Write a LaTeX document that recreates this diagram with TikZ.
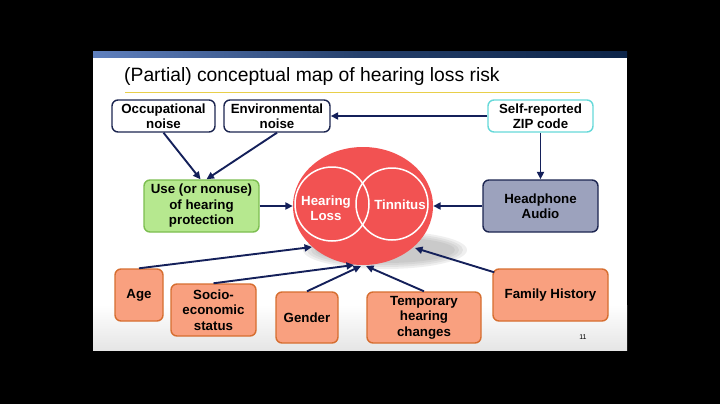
\documentclass[tikz,border=0pt]{standalone}
\usepackage{fontspec}
\setmainfont{Liberation Sans}
\usetikzlibrary{arrows.meta,shapes.geometric,calc}
\definecolor{navy}{RGB}{20,32,90}
\definecolor{orfill}{RGB}{249,160,127}
\definecolor{ordraw}{RGB}{214,110,48}
\definecolor{grfill}{RGB}{182,232,143}
\definecolor{grdraw}{RGB}{124,190,80}
\definecolor{hpfill}{RGB}{156,162,189}
\definecolor{hpdraw}{RGB}{28,37,80}
\definecolor{zipdraw}{RGB}{102,217,217}
\definecolor{bigred}{RGB}{242,82,82}
\definecolor{titleline}{RGB}{232,207,74}
\definecolor{barlight}{RGB}{95,128,190}
\definecolor{bardark}{RGB}{12,36,72}
\begin{document}
\begin{tikzpicture}[x=1pt,y=-1pt,
  box/.style={draw, rounded corners=6pt, line width=1.4pt, align=center,
    font=\bfseries\fontsize{13.3}{15.5}\selectfont, inner sep=0pt},
  whitebox/.style={box, fill=white, draw=hpdraw},
  orbox/.style={box, fill=orfill, draw=ordraw},
  shadowpart/.style={fill=gray, opacity=0.12},
  arr/.style={-{Triangle[length=7.5pt,width=7pt]}, line width=1.9pt, draw=navy}]
\fill[black] (0,0) rectangle (720,404);
\useasboundingbox (0,0) rectangle (720,404);
\fill[white] (93,52) rectangle (627,350);
\shade[top color=white, bottom color=gray!20] (93,305) rectangle (627,350);
\shade[left color=barlight, right color=bardark, middle color=bardark!70!barlight] (93,52) rectangle (627,58);
\node[anchor=west, font=\fontsize{19.3}{23}\selectfont, inner sep=0pt] (title) at (124,77) {(Partial) conceptual map of hearing loss risk};
\draw[titleline, line width=0.8pt] (125,92) -- (580,92);

% top row
\node[whitebox, minimum width=103pt, minimum height=32pt] (occ) at (163.5,116) {Occupational\\noise};
\node[whitebox, minimum width=106pt, minimum height=32pt] (env) at (277,116) {Environmental\\noise};
\node[box, fill=white, draw=zipdraw, minimum width=105pt, minimum height=32pt] (zip) at (540.5,116) {Self-reported\\ZIP code};
% middle row
\node[box, fill=grfill, draw=grdraw, minimum width=115pt, minimum height=52pt] (use) at (201.5,206) {Use (or nonuse)\\of hearing\\protection};
\node[box, fill=hpfill, draw=hpdraw, minimum width=115pt, minimum height=52pt] (head) at (540.5,206) {Headphone\\Audio};

% central circle with soft shadow
\fill[shadowpart] (385,250) ellipse [x radius=82pt, y radius=19pt];
\fill[shadowpart] (385,250) ellipse [x radius=78pt, y radius=17pt];
\fill[shadowpart] (385,250) ellipse [x radius=74pt, y radius=15pt];
\fill[shadowpart] (385,250) ellipse [x radius=70pt, y radius=13pt];
\node[ellipse, fill=bigred, minimum width=140pt, minimum height=118pt, inner sep=0pt] (big) at (363,206) {};
\node[circle, draw=white, line width=1.5pt, minimum size=74pt, inner sep=0pt] (hl) at (332,204) {};
\node[circle, draw=white, line width=1.5pt, minimum size=72pt, inner sep=0pt] (tn) at (392,204) {};
\node[text=white, align=center, font=\bfseries\fontsize{13.3}{15.5}\selectfont] (hltext) at (326,208) {Hearing\\Loss};
\node[text=white, font=\bfseries\fontsize{13.3}{15.5}\selectfont] (tntext) at (400,205) {Tinnitus};

% bottom row
\node[orbox, minimum width=48pt, minimum height=52pt] (age) at (139,295) {Age};
\node[orbox, minimum width=85pt, minimum height=52pt] (socio) at (213.5,310) {Socio-\\economic\\status};
\node[orbox, minimum width=62pt, minimum height=51pt] (gender) at (307,317.5) {Gender};
\node[orbox, minimum width=114pt, minimum height=51pt] (temp) at (424,317.5) {Temporary\\hearing\\changes};
\node[orbox, minimum width=115pt, minimum height=52pt] (family) at (550.5,295) {Family History};

\node[font=\fontsize{7}{8}\selectfont] (pg) at (583,337) {11};

% arrow end points on the circle
\coordinate (tAge) at (312,247);
\coordinate (tSocio) at (354,265);
\coordinate (tGender) at (361,266);
\coordinate (tTemp) at (366,266);
\coordinate (tFam) at (415,248);

\draw[arr] (occ.south) -- ($(use.north)+(-1,0)$);
\draw[arr] (env.south) -- ($(use.north)+(5,0)$);
\draw[arr] (zip.west) -- (env.east);
\draw[arr] (zip.south) -- (head.north);
\draw[arr] (use.east) -- (big.west);
\draw[arr] (head.west) -- (big.east);
\draw[arr] (age.north) -- (tAge);
\draw[arr] (socio.north) -- (tSocio);
\draw[arr] (gender.north) -- (tGender);
\draw[arr] (temp.north) -- (tTemp);
\draw[arr] ($(family.north west)+(2,4)$) -- (tFam);
\end{tikzpicture}
\end{document}
